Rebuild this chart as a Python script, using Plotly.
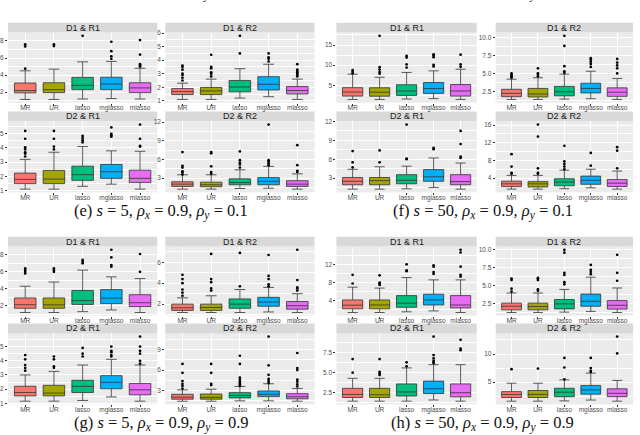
import plotly.graph_objects as go

methods = ["MR", "UR", "lasso", "mglasso", "mlasso"]
colors = ["#F8766D", "#A3A500", "#00BF7D", "#00B0F6", "#E76BF3"]
facet_names = ["D1 & R1", "D1 & R2", "D2 & R1", "D2 & R2"]

# box stats per method: [lower whisker, q1, median, q3, upper whisker]
# (e) s = 5, rho_x = 0.9, rho_y = 0.1
e_d1r1 = [[1.15, 1.92, 2.19, 3.07, 4.5], [1.15, 1.95, 2.3, 3.1, 4.7], [1.2, 2.3, 2.8, 3.73, 5.55],
          [1.25, 2.3, 2.96, 3.75, 5.6], [1.2, 1.95, 2.5, 3.1, 4.8]]
e_d1r1_out = [[4.75, 7.35, 7.6], [7.4, 7.6], [8.6], [5.9, 6.2, 6.8, 7.9], [5.0, 5.1, 5.2, 5.3, 6.4, 8.1]]
e_d1r2 = [[1.1, 1.46, 1.68, 1.9, 2.3], [1.1, 1.46, 1.73, 1.98, 2.6], [1.2, 1.66, 2.02, 2.5, 3.37],
          [1.3, 1.8, 2.22, 2.78, 3.7], [1.1, 1.5, 1.76, 2.05, 2.6]]
e_d1r2_out = [[2.5, 2.7, 2.9, 3.0, 3.3, 3.5, 3.6], [2.8, 3.0, 3.1, 3.4, 3.5, 4.4], [4.5, 5.8],
              [3.9, 4.1, 4.2, 4.5], [2.8, 2.9, 3.0, 3.1, 3.2, 3.3, 3.7]]
e_d2r1 = [[1.1, 1.49, 1.79, 2.23, 3.2], [1.1, 1.49, 1.81, 2.42, 3.7], [1.3, 1.72, 2.12, 2.72, 4.1],
          [1.45, 1.86, 2.33, 2.84, 3.8], [1.1, 1.56, 1.86, 2.44, 3.77]]
e_d2r1_out = [[3.4, 3.6, 3.7, 3.9, 4.05, 4.65, 5.2], [3.9, 4.1, 4.65, 5.2], [4.4, 4.55, 4.7, 4.85],
              [4.8, 4.9, 5.0, 5.45], [4.1, 4.15, 4.65, 5.65]]
e_d2r2 = [[1.25, 1.68, 2.05, 2.43, 3.55], [1.25, 1.63, 1.95, 2.37, 3.55], [1.35, 1.95, 2.3, 2.9, 4.35],
          [1.4, 1.95, 2.5, 3.1, 4.9], [1.25, 1.68, 2.05, 2.6, 3.7]]
e_d2r2_out = [[3.6, 3.9, 4.1, 4.7, 5.0, 7.2], [3.7, 4.0, 4.9, 7.0, 7.2], [4.7, 5.2, 5.5, 5.9, 7.3],
              [5.1, 5.4, 5.7, 5.9, 11.6], [4.0, 4.2, 5.1, 8.3]]

# (f) s = 50, rho_x = 0.9, rho_y = 0.1
f_d1r1 = [[1.5, 2.33, 3.33, 4.42, 7.75], [1.5, 2.3, 3.3, 4.4, 7.0], [1.6, 2.5, 3.6, 5.15, 8.2],
          [1.7, 3.0, 4.2, 5.7, 8.6], [1.5, 2.33, 3.6, 5.2, 9.0]]
f_d1r1_out = [[8.0, 8.4, 8.8], [7.9, 8.3, 8.9, 9.5, 17.3], [9.4, 10.2, 11.9, 12.3],
              [9.7, 10.1, 12.0, 12.4, 12.7], [9.6, 10.2, 12.6]]
f_d1r2 = [[1.4, 1.78, 2.24, 2.8, 4.2], [1.4, 1.74, 2.15, 2.92, 4.4], [1.45, 1.9, 2.46, 3.2, 4.9],
          [1.5, 2.3, 2.92, 3.65, 5.3], [1.4, 1.83, 2.4, 3.0, 4.3]]
f_d1r2_out = [[4.4, 4.6, 4.8, 5.0], [4.6, 4.9, 5.0, 5.7], [5.1, 5.3, 6.0, 8.8, 10.2],
              [5.9, 6.3, 6.6, 6.9, 7.1], [5.0, 5.7, 6.1, 6.5, 7.0]]
f_d2r1 = [[1.25, 1.95, 2.5, 3.1, 4.4], [1.25, 1.95, 2.6, 3.1, 4.8], [1.3, 2.1, 2.65, 3.55, 4.9],
          [1.5, 2.5, 3.2, 4.35, 6.2], [1.25, 1.95, 2.45, 3.55, 5.4]]
f_d2r1_out = [[4.7, 5.5, 7.3], [5.5, 7.4], [6.0, 6.1, 11.5], [7.6, 7.8], [6.2, 6.4, 8.4, 10.5]]
f_d2r2 = [[1.5, 2.08, 2.7, 3.3, 4.6], [1.5, 2.0, 2.7, 3.2, 4.6], [1.6, 2.25, 3.1, 3.85, 5.8],
          [1.8, 2.6, 3.5, 4.45, 6.0], [1.5, 2.1, 2.85, 3.7, 5.6]]
f_d2r2_out = [[5.0, 5.2, 6.6, 9.4], [5.0, 5.2, 6.2, 13.4, 16.1], [6.0, 6.6, 7.2, 7.8, 11.3],
              [6.8, 9.7], [6.2, 10.2, 11.0]]

# (g) s = 5, rho_x = 0.9, rho_y = 0.9
g_d1r1 = [[1.2, 1.7, 2.12, 2.92, 4.3], [1.2, 1.7, 2.1, 2.92, 4.8], [1.3, 2.15, 2.6, 3.8, 6.2],
          [1.5, 2.25, 2.9, 3.9, 5.4], [1.2, 1.9, 2.35, 3.3, 5.2]]
g_d1r1_out = [[5.8, 6.0, 6.2, 6.4], [6.0, 6.2, 6.4], [7.0, 7.2, 7.4], [6.6, 6.8, 7.7, 8.6], [6.0, 8.1]]
g_d1r2 = [[1.2, 1.4, 1.65, 2.0, 2.6], [1.2, 1.4, 1.68, 2.0, 2.8], [1.2, 1.6, 2.0, 2.5, 3.4],
          [1.25, 1.8, 2.2, 2.65, 3.6], [1.2, 1.52, 1.85, 2.25, 3.0]]
g_d1r2_out = [[2.8, 3.1, 3.4, 4.0, 4.4, 4.8], [3.3, 3.5, 4.1, 4.4, 6.8], [3.7, 6.9],
              [3.7, 3.9, 4.4, 4.7, 6.7], [3.3, 3.5, 3.6, 4.3, 7.2]]
g_d2r1 = [[1.15, 1.52, 1.76, 2.2, 3.0], [1.15, 1.52, 1.72, 2.27, 3.25], [1.2, 1.76, 2.19, 2.62, 3.7],
          [1.45, 2.02, 2.48, 2.95, 4.1], [1.15, 1.6, 1.95, 2.4, 3.7]]
g_d2r1_out = [[3.3, 3.5, 3.7, 4.1, 4.4], [3.5, 3.6, 4.1, 4.3], [4.3, 4.5, 4.9],
              [4.3, 4.4, 4.6, 4.7, 5.0], [3.8, 4.0, 4.5, 4.7, 5.0, 5.7]]
g_d2r2 = [[1.45, 1.74, 2.03, 2.46, 3.1], [1.45, 1.74, 2.0, 2.5, 3.2], [1.5, 1.93, 2.27, 2.7, 3.6],
          [1.5, 2.12, 2.46, 2.95, 4.0], [1.45, 1.8, 2.1, 2.55, 3.3]]
g_d2r2_out = [[3.3, 3.7, 4.0, 4.4, 5.6, 6.9], [3.8, 4.0, 5.6, 6.9], [3.7, 3.9, 4.1, 4.3, 4.6, 4.9, 6.9, 8.1],
              [4.1, 4.4, 4.7, 5.3, 6.7, 10.9], [3.6, 3.9, 4.3, 4.6, 6.0, 6.3, 8.5]]

# (h) s = 50, rho_x = 0.9, rho_y = 0.9
h_d1r1 = [[1.45, 2.25, 3.05, 4.2, 7.0], [1.45, 2.25, 3.1, 4.2, 6.8], [1.6, 2.6, 3.5, 5.15, 9.1],
          [1.8, 3.1, 4.2, 5.45, 8.6], [1.45, 2.45, 3.1, 5.15, 8.6]]
h_d1r1_out = [[7.8, 9.7], [7.5, 7.8, 8.0, 9.6], [10.5, 10.7, 12.0], [9.9, 10.3, 11.5, 11.8],
              [9.3, 9.7, 11.5, 14.6, 15.2]]
h_d1r2 = [[1.3, 1.67, 2.17, 2.6, 4.0], [1.3, 1.67, 2.13, 2.6, 4.0], [1.35, 1.8, 2.5, 3.1, 4.5],
          [1.45, 2.17, 2.85, 3.85, 6.2], [1.3, 1.77, 2.3, 2.95, 4.7]]
h_d1r2_out = [[4.2, 4.6, 5.8, 6.0], [4.3, 4.5, 5.8, 6.0, 6.1], [5.2, 5.5, 6.5, 6.8, 9.6, 10.0],
              [6.6, 6.9, 7.2, 7.9], [5.7, 6.8, 9.3]]
h_d2r1 = [[1.45, 1.91, 2.29, 3.05, 4.3], [1.45, 1.91, 2.25, 3.05, 4.3], [1.45, 2.1, 2.6, 3.6, 5.6],
          [1.6, 2.4, 3.0, 3.95, 6.0], [1.45, 1.99, 2.5, 3.6, 6.0]]
h_d2r1_out = [[5.0, 6.7], [4.7, 4.9, 5.1, 6.7], [5.8, 6.3], [6.2, 6.3, 6.5, 6.8, 7.2, 9.5], [7.8, 8.0, 9.1]]
h_d2r2 = [[1.6, 2.25, 2.8, 3.3, 4.8], [1.6, 2.25, 2.8, 3.5, 4.8], [1.65, 2.4, 3.2, 3.9, 5.4],
          [1.8, 2.85, 3.6, 4.4, 6.6], [1.6, 2.4, 3.0, 3.8, 5.3]]
h_d2r2_out = [[7.3], [7.4], [5.5, 7.6, 9.3], [6.8, 7.0, 7.5, 9.3], [10.1, 13.1]]

# y tick steps per facet (D1&R1, D1&R2, D2&R1, D2&R2)
e_ticks = [2, 1, 1, 3]
f_ticks = [5, 2.5, 3, 4]
g_ticks = [2, 2, 1, 3]
h_ticks = [4, 2.5, 2.5, 5]

captions = [
    "(e) <i>s</i> = 5, <i>ρ<sub>x</sub></i> = 0.9, <i>ρ<sub>y</sub></i> = 0.1",
    "(f) <i>s</i> = 50, <i>ρ<sub>x</sub></i> = 0.9, <i>ρ<sub>y</sub></i> = 0.1",
    "(g) <i>s</i> = 5, <i>ρ<sub>x</sub></i> = 0.9, <i>ρ<sub>y</sub></i> = 0.9",
    "(h) <i>s</i> = 50, <i>ρ<sub>x</sub></i> = 0.9, <i>ρ<sub>y</sub></i> = 0.9",
]
cut_captions = [
    "(c) <i>s</i> = 5, <i>ρ<sub>x</sub></i> = 0.5, <i>ρ<sub>y</sub></i> = 0.9",
    "(d) <i>s</i> = 50, <i>ρ<sub>x</sub></i> = 0.5, <i>ρ<sub>y</sub></i> = 0.9",
]

W, H = 640, 435
left_cols = [(5, 155), (163, 313)]
right_cols = [(335, 476), (495, 633)]
top_rows = [(19, 29, 100), (109, 119, 191)]  # strip top, plot top, plot bottom
bottom_rows = [(236, 246, 316), (324, 334, 406)]

panels = [
    (left_cols, top_rows, 210, 159, [e_d1r1, e_d1r2, e_d2r1, e_d2r2],
     [e_d1r1_out, e_d1r2_out, e_d2r1_out, e_d2r2_out], e_ticks),
    (right_cols, top_rows, 210, 482, [f_d1r1, f_d1r2, f_d2r1, f_d2r2],
     [f_d1r1_out, f_d1r2_out, f_d2r1_out, f_d2r2_out], f_ticks),
    (left_cols, bottom_rows, 425, 159, [g_d1r1, g_d1r2, g_d2r1, g_d2r2],
     [g_d1r1_out, g_d1r2_out, g_d2r1_out, g_d2r2_out], g_ticks),
    (right_cols, bottom_rows, 425, 482, [h_d1r1, h_d1r2, h_d2r1, h_d2r2],
     [h_d1r1_out, h_d1r2_out, h_d2r1_out, h_d2r2_out], h_ticks),
]

tick_font = dict(family="Liberation Sans", size=6.5, color="#4D4D4D")
cap_font = dict(family="Liberation Serif", size=16.5, color="#111111")

fig = go.Figure()
layout = {}
shapes = []
annotations = []
n = 0
for p, (cols, rows, cap_y, cap_x, stats_list, out_list, ticks) in enumerate(panels):
    for k in range(4):
        n += 1
        stats, outs, step = stats_list[k], out_list[k], ticks[k]
        xa = "x" if n == 1 else f"x{n}"
        ya = "y" if n == 1 else f"y{n}"
        for m in range(5):
            s = stats[m]
            fig.add_trace(go.Box(x=[methods[m]], lowerfence=[s[0]], q1=[s[1]], median=[s[2]],
                                 q3=[s[3]], upperfence=[s[4]], fillcolor=colors[m],
                                 line=dict(color="#333333", width=0.8), width=0.75,
                                 boxpoints=False, xaxis=xa, yaxis=ya, showlegend=False,
                                 hoverinfo="skip"))
            fig.add_trace(go.Scatter(x=[methods[m]] * len(outs[m]), y=outs[m], mode="markers",
                                     marker=dict(color="black", size=2.7), xaxis=xa, yaxis=ya,
                                     showlegend=False, hoverinfo="skip"))
        lo = min(s[0] for s in stats)
        hi = max(max([s[4]] + o) for s, o in zip(stats, outs))
        pad = 0.05 * (hi - lo)
        x0, x1 = cols[k % 2]
        st, yt, yb = rows[k // 2]
        layout["xaxis" if n == 1 else f"xaxis{n}"] = dict(
            domain=[x0 / W, x1 / W], anchor=ya, type="category", categoryorder="array",
            categoryarray=methods, range=[-0.6, 4.6], showgrid=True, gridcolor="white",
            gridwidth=0.8, zeroline=False, showline=False, ticks="outside", ticklen=2,
            tickwidth=0.6, tickcolor="#333333", tickfont=tick_font, ticklabelstandoff=-3)
        layout["yaxis" if n == 1 else f"yaxis{n}"] = dict(
            domain=[1 - yb / H, 1 - yt / H], anchor=xa, range=[lo - pad, hi + pad],
            tick0=0, dtick=step, tickformat=".1f" if step == 2.5 else "", showgrid=True,
            gridcolor="white", gridwidth=0.8, zeroline=False, showline=False,
            ticks="outside", ticklen=2, tickwidth=0.6, tickcolor="#333333", tickfont=tick_font,
            minor=dict(tick0=0, dtick=step / 2, showgrid=True, gridcolor="white", gridwidth=0.4))
        # facet strip
        shapes.append(dict(type="rect", xref="paper", yref="paper", x0=x0 / W, x1=x1 / W,
                           y0=1 - yt / H, y1=1 - st / H, fillcolor="#D9D9D9", line=dict(width=0),
                           layer="below"))
        annotations.append(dict(text=facet_names[k], xref="paper", yref="paper",
                                x=(x0 + x1) / 2 / W, y=1 - (st + yt) / 2 / H, showarrow=False,
                                xanchor="center", yanchor="middle",
                                font=dict(family="Liberation Sans", size=9, color="#1A1A1A")))
    annotations.append(dict(text=captions[p], xref="paper", yref="paper", x=cap_x / W,
                            y=1 - cap_y / H, showarrow=False, xanchor="center", yanchor="middle",
                            font=cap_font))

# captions of the panels above, mostly cut off by the top edge
for cx, txt in zip([159, 482], cut_captions):
    annotations.append(dict(text=txt, xref="paper", yref="paper", x=cx / W, y=1 + 13 / H,
                            showarrow=False, xanchor="center", yanchor="middle", font=cap_font))

fig.update_layout(width=W, height=H, margin=dict(l=0, r=0, t=0, b=0),
                  paper_bgcolor="white", plot_bgcolor="#EBEBEB", showlegend=False,
                  shapes=shapes, annotations=annotations, **layout)
# page body has a default margin, drop it so the figure sits at the window corner
fig.write_html("out.html", config={"displayModeBar": False},
               post_script="document.body.style.margin = '0px';")
